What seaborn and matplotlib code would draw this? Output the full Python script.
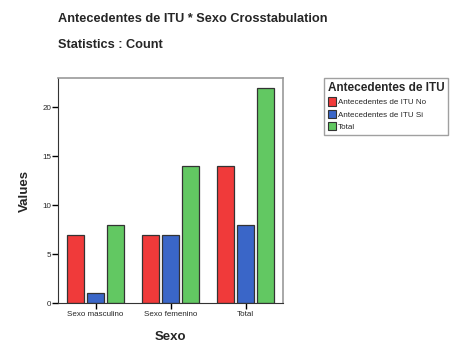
import matplotlib
matplotlib.use("Agg")
import matplotlib.pyplot as plt
import seaborn as sns
import pandas as pd
from matplotlib.patches import Patch

categories = ["Sexo masculino", "Sexo femenino", "Total"]
series_names = ["Antecedentes de ITU No", "Antecedentes de ITU Si", "Total"]
values_no = [7, 7, 14]
values_si = [1, 7, 8]
values_total = [8, 14, 22]
colors = ["#f03a3a", "#3a66c8", "#62c862"]

rows = []
for name, vals in zip(series_names, [values_no, values_si, values_total]):
    for c, v in zip(categories, vals):
        rows.append({"Sexo": c, "Serie": name, "Values": v})
df = pd.DataFrame(rows)

sns.set_style("white")
plt.rcParams['font.family'] = ['Liberation Sans', 'DejaVu Sans']

fig = plt.figure(figsize=(4.7, 3.54), dpi=100)
ax = fig.add_axes([58/470, 1-303/354, 225/470, 225/354])

sns.barplot(data=df, x="Sexo", y="Values", hue="Serie", hue_order=series_names,
            order=categories, palette=colors, width=0.8, gap=0.12,
            edgecolor="#333333", linewidth=0.9, ax=ax, legend=False, errorbar=None,
            saturation=1)

ax.set_xlim(-0.5, 2.5)
ax.set_ylim(0, 23)
ax.set_yticks([0, 5, 10, 15, 20])
ax.tick_params(axis='y', labelsize=5.8, length=4, width=1, color='black', direction='out', pad=1, left=True)
ax.tick_params(axis='x', labelsize=5.8, length=4, width=1, color='black', direction='out', pad=2, bottom=True)
for s in ['top', 'right']:
    ax.spines[s].set_color('#999999')
    ax.spines[s].set_linewidth(1.2)
ax.spines['left'].set_color('#333333')
ax.spines['bottom'].set_color('#333333')
ax.set_xlabel("Sexo", fontsize=9.5, fontweight='bold', labelpad=9)
ax.set_ylabel("Values", fontsize=9.5, fontweight='bold', labelpad=8)

fig.text(58/470, 1-19/354, "Antecedentes de ITU * Sexo Crosstabulation", fontsize=9.2,
         fontweight='bold', va='center', ha='left')
fig.text(58/470, 1-45/354, "Statistics : Count", fontsize=9.2,
         fontweight='bold', va='center', ha='left')

handles = [Patch(facecolor=c, edgecolor='#333333', linewidth=0.8) for c in colors]
leg = fig.legend(handles, series_names, loc='upper left', bbox_to_anchor=(324/470, 1-78/354),
                 title="Antecedentes de ITU", fontsize=5.8, frameon=True, fancybox=False,
                 handlelength=1.0, handleheight=1.2, handletextpad=0.3, labelspacing=0.45,
                 borderpad=0.45, borderaxespad=0, alignment='left')
leg.get_title().set_fontsize(8.5)
leg.get_title().set_fontweight('bold')
leg.get_frame().set_edgecolor('#888888')
leg.get_frame().set_linewidth(1.0)

fig.savefig("out.png", dpi=100)
